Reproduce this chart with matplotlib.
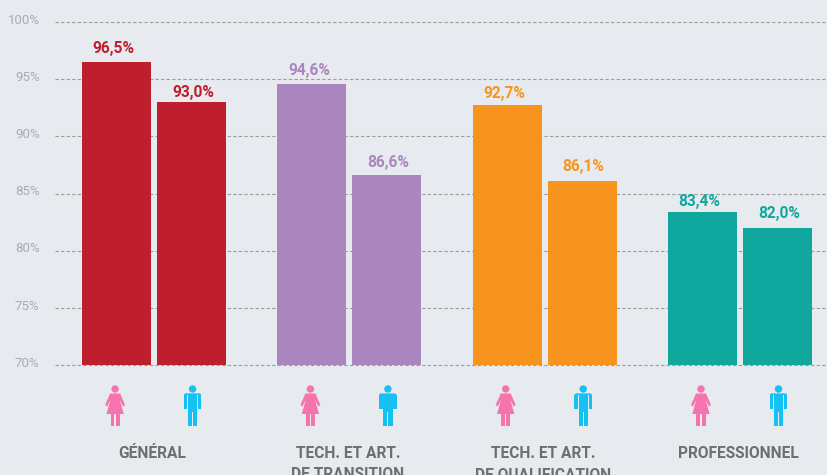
import matplotlib
matplotlib.use("Agg")
import matplotlib.pyplot as plt
from matplotlib.patches import Circle, Polygon
from matplotlib.transforms import ScaledTranslation

categories = ["GÉNÉRAL", "TECH. ET ART.\nDE TRANSITION", "TECH. ET ART.\nDE QUALIFICATION", "PROFESSIONNEL"]
female = [96.5, 94.6, 92.7, 83.4]
male = [93.0, 86.6, 86.1, 82.0]
female_labels = ["96,5%", "94,6%", "92,7%", "83,4%"]
male_labels = ["93,0%", "86,6%", "86,1%", "82,0%"]
colors = ["#be1e2d", "#a986bd", "#f7941d", "#10a89e"]
yticks = [70, 75, 80, 85, 90, 95, 100]

# label gaps above the bars differ from bar to bar in the original
female_pad = [4.6, 4.3, 2.9, 2.2]
male_pad = [1.4, 3.8, 5, 5]

BG = "#e7eaee"
W, H = 827, 475
plt.rcParams["font.family"] = ["Roboto", "DejaVu Sans"]


def draw_woman(ov, cx):
    c = "#f574ae"
    ov.add_patch(Circle((cx, 389), 3.7, fc=c, ec="none"))
    right = [(5, 393.5), (10, 405), (8, 406.5), (4.5, 399.5), (8.7, 414)]
    left = [(-x, y) for x, y in reversed(right)]
    ov.add_patch(Polygon([(cx + x, y) for x, y in right + left], fc=c, ec="none"))
    ov.add_patch(Polygon([(cx - 4.6, 413), (cx - 0.7, 413), (cx - 0.7, 426), (cx - 4.6, 426)], fc=c, ec="none"))
    ov.add_patch(Polygon([(cx + 0.7, 413), (cx + 4.6, 413), (cx + 4.6, 426), (cx + 0.7, 426)], fc=c, ec="none"))


def draw_man(ov, cx):
    c = "#15c0f2"
    ov.add_patch(Circle((cx, 389), 3.7, fc=c, ec="none"))
    ov.add_patch(Polygon([(cx - 7.5, 393.4), (cx + 7.5, 393.4), (cx + 8.8, 395), (cx - 8.8, 395)], fc=c, ec="none"))
    ov.add_patch(Polygon([(cx - 4.7, 394), (cx + 4.7, 394), (cx + 4.7, 412), (cx - 4.7, 412)], fc=c, ec="none"))
    ov.add_patch(Polygon([(cx - 8.8, 395), (cx - 5.3, 395), (cx - 5.3, 408.5), (cx - 8.8, 408.5)], fc=c, ec="none"))
    ov.add_patch(Polygon([(cx + 5.3, 395), (cx + 8.8, 395), (cx + 8.8, 408.5), (cx + 5.3, 408.5)], fc=c, ec="none"))
    ov.add_patch(Polygon([(cx - 4.7, 412), (cx - 0.5, 412), (cx - 0.5, 425.5), (cx - 4.7, 425.5)], fc=c, ec="none"))
    ov.add_patch(Polygon([(cx + 0.5, 412), (cx + 4.7, 412), (cx + 4.7, 425.5), (cx + 0.5, 425.5)], fc=c, ec="none"))


fig = plt.figure(figsize=(W / 100, H / 100), dpi=100, facecolor=BG)

# main axes: one x unit is one group (195.3 px), left edge at px 55
ax = fig.add_axes([55 / W, 1 - 365 / H, (W - 55) / W, (365 - 22) / H], facecolor="none")
step = 195.3
x0 = 154
ax.set_xlim((55 - x0) / step, (W - x0) / step)
ax.set_ylim(70, 100)

offset = 37.5 / step
width = 69 / step
for i in range(4):
    ax.bar(i - offset, female[i] - 70, width, bottom=70, color=colors[i], zorder=3)
    ax.bar(i + offset, male[i] - 70, width, bottom=70, color=colors[i], zorder=3)
    ax.annotate(female_labels[i], (i - offset, female[i]), xytext=(-2, female_pad[i]), textcoords="offset points",
                ha="center", va="bottom", color=colors[i], fontsize=11.2, fontweight="bold")
    ax.annotate(male_labels[i], (i + offset, male[i]), xytext=(1, male_pad[i]), textcoords="offset points",
                ha="center", va="bottom", color=colors[i], fontsize=11.2, fontweight="bold")

for s in ax.spines.values():
    s.set_visible(False)
ax.set_xticks([])
ax.set_yticks(yticks)
ax.set_yticklabels([f"{v}%" for v in yticks], color="#a9adb1", fontsize=9.5)
ax.tick_params(axis="y", length=0, pad=11)
shift = ScaledTranslation(0, 1.2 / 72, fig.dpi_scale_trans)
for lab in ax.get_yticklabels():
    lab.set_verticalalignment("center")
    lab.set_transform(lab.get_transform() + shift)
ax.grid(axis="y", color="#9a9da0", linestyle=(0, (3, 2)), linewidth=0.8, zorder=0)
ax.set_axisbelow(True)
for line in ax.get_ygridlines():
    line.set_clip_on(False)

# overlay in pixel coords for the icons and group names
ov = fig.add_axes([0, 0, 1, 1], facecolor="none")
ov.set_xlim(0, W)
ov.set_ylim(H, 0)
ov.axis("off")
for i, name in enumerate(categories):
    cx = x0 + i * step
    draw_woman(ov, cx - 38.9)
    draw_man(ov, cx + 38.6)
    ov.text(cx - 1.5, 446, name, ha="center", va="top",
            color="#6d6e71", fontsize=11.2, fontweight="bold", linespacing=1.5)

fig.savefig("out.png", dpi=100, facecolor=BG)
